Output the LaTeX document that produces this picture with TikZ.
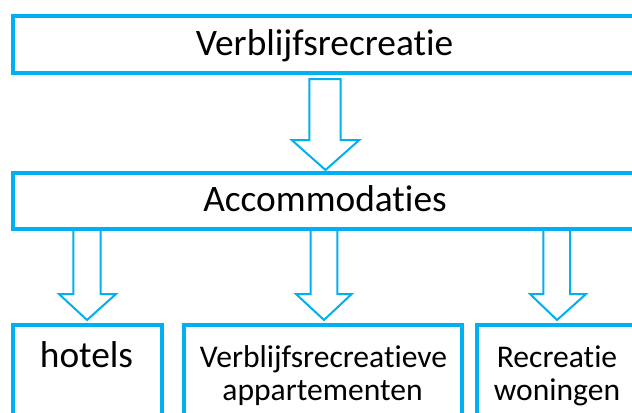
\documentclass[tikz,border=0pt]{standalone}
\usepackage{fontspec}
\setmainfont{Carlito}[Ligatures={NoCommon}]
\definecolor{sky}{HTML}{00B0F0}
\begin{document}
\begin{tikzpicture}[x=1bp,y=-1bp,
  box/.style={draw=sky,line width=4bp},
  blk/.style={draw=sky,line width=2bp,fill=white,line join=miter},
  big/.style={font=\fontsize{37.5}{40}\selectfont,anchor=base,inner sep=0pt},
  small/.style={font=\fontsize{31.7}{34}\selectfont,anchor=base,inner sep=0pt}]
\useasboundingbox (0,0) rectangle (632,412);
\begin{scope}
\clip (0,0) rectangle (632,412);
% block arrows
\draw[blk] (309.3,79) -- (340.7,79) -- (340.7,140) -- (359.3,140) -- (325.5,170) -- (291.7,140) -- (309.3,140) -- cycle;
\draw[blk] (73.3,228.5) -- (100.7,228.5) -- (100.7,294) -- (116,294) -- (87,320) -- (59,294) -- (73.3,294) -- cycle;
\draw[blk] (310.7,228.5) -- (337.3,228.5) -- (337.3,294) -- (351.7,294) -- (324,320) -- (296,294) -- (310.7,294) -- cycle;
\draw[blk] (543.3,228.5) -- (570,228.5) -- (570,294) -- (586,294) -- (557,320) -- (530,294) -- (543.3,294) -- cycle;
% boxes
\draw[box] (13.3,15.5) rectangle (645,73);
\draw[box] (13.3,172.5) rectangle (645,228.5);
\draw[box] (13.3,325) rectangle (161.7,430);
\draw[box] (184.3,324.5) rectangle (461.7,430);
\draw[box] (477.3,324.5) rectangle (633.5,430);
\end{scope}
% texts
\node[big] (t1) at (324.5,55) {Verblijfsrecreatie};
\node[big] (t2) at (325,211) {Accommodaties};
\node[big] (t3) at (86.5,367) {hotels};
\node[small] (t4) at (323.5,367) {Verblijfsrecreatieve};
\node[small] (t5) at (322.5,400) {appartementen};
\node[small] (t6) at (557,367) {Recreatie};
\node[small] (t7) at (557,400) {woningen};
\end{tikzpicture}
\end{document}
